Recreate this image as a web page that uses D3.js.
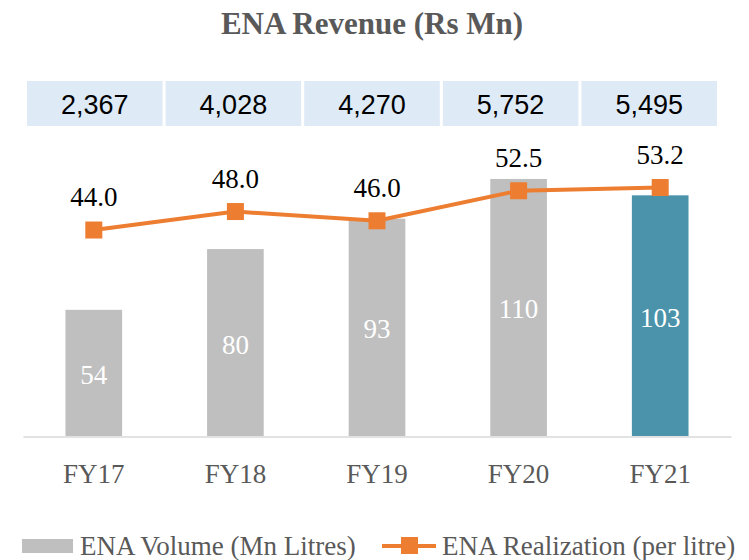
<!DOCTYPE html>
<head>
  <meta charset="utf-8">
  <script src="https://d3js.org/d3.v7.min.js"></script>
  <style>
    body { margin: 0; background: #fff; }
    svg { display: block; background-color: #ffffff; }
    .serif { font-family: "Liberation Serif", "DejaVu Serif", serif; }
  </style>
</head>
<body>
  <svg id="chart" width="749" height="560"></svg>
  <script>
    // data
    var years = ["FY17", "FY18", "FY19", "FY20", "FY21"];
    var revenue = ["2,367", "4,028", "4,270", "5,752", "5,495"];
    var volume = [54, 80, 93, 110, 103];
    var realization = [44.0, 48.0, 46.0, 52.5, 53.2];

    var svg = d3.select("#chart");
    var grey = "#595959", orange = "#ED7D31";

    // title
    svg.append("text")
      .attr("class", "serif")
      .attr("x", 372).attr("y", 34)
      .attr("text-anchor", "middle")
      .style("font-size", "31px").style("font-weight", "bold")
      .attr("fill", grey)
      .text("ENA Revenue (Rs Mn)");

    // revenue boxes on top
    var xb = d3.scaleBand().domain(years).range([27, 717]).paddingInner(0.022);
    var boxes = svg.append("g").selectAll("g").data(years).enter().append("g");
    boxes.append("rect")
      .attr("x", d => xb(d)).attr("y", 81)
      .attr("width", xb.bandwidth()).attr("height", 45)
      .attr("fill", "#DEEAF6");
    boxes.append("text")
      .attr("x", d => xb(d) + xb.bandwidth() / 2).attr("y", 114)
      .attr("text-anchor", "middle")
      .style("font-family", "'Liberation Sans', Arial, sans-serif")
      .style("font-size", "27px")
      .attr("fill", "#000")
      .text((d, i) => revenue[i]);

    // scales
    var x = d3.scaleBand().domain(years).range([23, 731]).paddingInner(0.6).paddingOuter(0.3);
    var y = d3.scaleLinear().domain([0, 120]).range([436, 155.6]);
    var y2 = d3.scaleLinear().domain([0, 60]).range([433.3, 156.1]);

    // bars
    svg.append("g").selectAll("rect").data(volume).enter().append("rect")
      .attr("x", (d, i) => x(years[i]))
      .attr("y", d => y(d))
      .attr("width", x.bandwidth())
      .attr("height", d => y(0) - y(d))
      .attr("fill", (d, i) => i === years.length - 1 ? "#4A93AB" : "#BFBFBF");

    svg.append("g").selectAll("text").data(volume).enter().append("text")
      .attr("class", "serif")
      .attr("x", (d, i) => x(years[i]) + x.bandwidth() / 2)
      .attr("y", d => (y(d) + y(0)) / 2 + 11)
      .attr("text-anchor", "middle")
      .style("font-size", "27px")
      .attr("fill", "#fff")
      .text(d => d);

    // x axis
    var xAxis = svg.append("g")
      .attr("transform", "translate(0,436.5)")
      .call(d3.axisBottom(x).tickSize(0).tickPadding(27).tickSizeOuter(0));
    xAxis.select(".domain").attr("stroke", "#D9D9D9").attr("stroke-width", 1.5);
    xAxis.selectAll("text")
      .attr("class", "serif")
      .style("font-size", "27px")
      .attr("fill", grey);

    // realization line
    var cx = d => x(d) + x.bandwidth() / 2;
    var line = d3.line()
      .x((d, i) => cx(years[i]))
      .y(d => y2(d));
    svg.append("path")
      .datum(realization)
      .attr("d", line)
      .attr("fill", "none")
      .attr("stroke", orange)
      .attr("stroke-width", 4);

    svg.append("g").selectAll("rect").data(realization).enter().append("rect")
      .attr("x", (d, i) => cx(years[i]) - 8.5)
      .attr("y", d => y2(d) - 8.5)
      .attr("width", 17).attr("height", 17)
      .attr("fill", orange);

    svg.append("g").selectAll("text").data(realization).enter().append("text")
      .attr("class", "serif")
      .attr("x", (d, i) => cx(years[i]))
      .attr("y", d => y2(d) - 24)
      .attr("text-anchor", "middle")
      .style("font-size", "27px")
      .attr("fill", "#000")
      .text(d => d.toFixed(1));

    // legend
    var lg = svg.append("g");
    lg.append("rect")
      .attr("x", 22).attr("y", 539).attr("width", 51).attr("height", 14)
      .attr("fill", "#BFBFBF");
    lg.append("text")
      .attr("class", "serif")
      .attr("x", 80).attr("y", 555)
      .style("font-size", "27px")
      .attr("fill", grey)
      .text("ENA Volume (Mn Litres)");
    lg.append("line")
      .attr("x1", 382).attr("x2", 436).attr("y1", 546).attr("y2", 546)
      .attr("stroke", orange).attr("stroke-width", 4);
    lg.append("rect")
      .attr("x", 401).attr("y", 537).attr("width", 17).attr("height", 17)
      .attr("fill", orange);
    lg.append("text")
      .attr("class", "serif")
      .attr("x", 442).attr("y", 555)
      .style("font-size", "27px")
      .attr("fill", grey)
      .text("ENA Realization (per litre)");
  </script>
</body>
</html>
